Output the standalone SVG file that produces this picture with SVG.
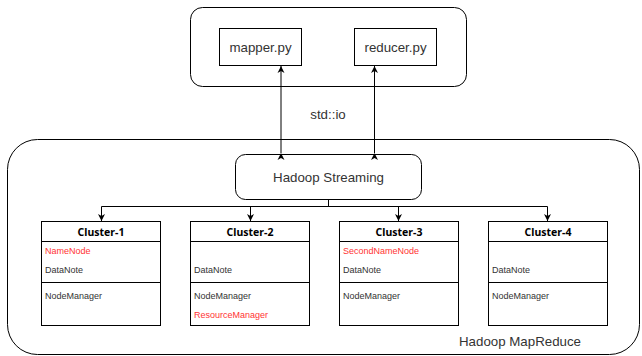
<svg xmlns="http://www.w3.org/2000/svg" width="642" height="356" viewBox="0 0 642 356">
<style>
.box{fill:#fff;stroke:#000;stroke-width:1}
.lbl{font-family:"Liberation Sans",Arial,sans-serif;font-size:13.3px;fill:#333}
.title{font-family:"Noto Sans","DejaVu Sans",sans-serif;font-size:10.5px;font-weight:bold;fill:#000}
.item{font-family:"Liberation Sans",Arial,sans-serif;font-size:9px;fill:#333}
.red{fill:#FF3333}
.con{fill:none;stroke:#000;stroke-width:1}
</style>
<defs>
<marker id="ah" markerWidth="8" markerHeight="8" refX="7" refY="4" orient="auto" markerUnits="userSpaceOnUse">
<path d="M0,0.5 L7,4 L0,7.5 L2,4 Z" fill="#000"/>
</marker>
</defs>
<g id="mapreduce">
<rect class="box" x="7.5" y="139.5" width="632" height="215" rx="30" ry="30"/>
<text class="lbl" x="520" y="346" text-anchor="middle">Hadoop MapReduce</text>
</g>
<g id="scripts">
<rect class="box" x="190.5" y="7.5" width="276" height="79" rx="12" ry="12"/>
</g>
<g id="mapper">
<rect class="box" x="219.5" y="28.5" width="82" height="37"/>
<text class="lbl" x="260.5" y="52" text-anchor="middle">mapper.py</text>
</g>
<g id="reducer">
<rect class="box" x="354.5" y="28.5" width="82" height="37"/>
<text class="lbl" x="395.5" y="52" text-anchor="middle">reducer.py</text>
</g>
<g id="streaming">
<rect class="box" x="235.5" y="154.5" width="186" height="45" rx="10" ry="10"/>
<text class="lbl" x="328.5" y="182" text-anchor="middle">Hadoop Streaming</text>
</g>
<g id="connectors">
<path class="con" d="M281,153 V66" marker-start="url(#ah)" marker-end="url(#ah)"/>
<path class="con" d="M374.5,153 V66" marker-start="url(#ah)" marker-end="url(#ah)"/>
<path class="con" d="M328.5,200 V206.5 H101.5 V221" marker-end="url(#ah)"/>
<path class="con" d="M328.5,206.5 H250.5 V221" marker-end="url(#ah)"/>
<path class="con" d="M328.5,206.5 H398.5 V221" marker-end="url(#ah)"/>
<path class="con" d="M328.5,206.5 H547.5 V221" marker-end="url(#ah)"/>
<rect x="310" y="106" width="36" height="16" fill="#fff"/>
<text class="lbl" x="328" y="119" text-anchor="middle">std::io</text>
</g>
<g id="cluster1">
<rect class="box" x="41.5" y="221.5" width="119" height="104"/>
<line class="con" x1="41.5" y1="241.5" x2="160.5" y2="241.5"/>
<line class="con" x1="41.5" y1="282.5" x2="160.5" y2="282.5"/>
<text class="title" x="101" y="235.5" text-anchor="middle">Cluster-1</text>
<text class="item red" x="45" y="254">NameNode</text>
<text class="item" x="45" y="273">DataNote</text>
<text class="item" x="45" y="299">NodeManager</text>
</g>
<g id="cluster2">
<rect class="box" x="190.5" y="221.5" width="119" height="104"/>
<line class="con" x1="190.5" y1="241.5" x2="309.5" y2="241.5"/>
<line class="con" x1="190.5" y1="282.5" x2="309.5" y2="282.5"/>
<text class="title" x="250" y="235.5" text-anchor="middle">Cluster-2</text>
<text class="item" x="194" y="273">DataNote</text>
<text class="item" x="194" y="299">NodeManager</text>
<text class="item red" x="194" y="318">ResourceManager</text>
</g>
<g id="cluster3">
<rect class="box" x="339.5" y="221.5" width="119" height="104"/>
<line class="con" x1="339.5" y1="241.5" x2="458.5" y2="241.5"/>
<line class="con" x1="339.5" y1="282.5" x2="458.5" y2="282.5"/>
<text class="title" x="399" y="235.5" text-anchor="middle">Cluster-3</text>
<text class="item red" x="343" y="254">SecondNameNode</text>
<text class="item" x="343" y="273">DataNote</text>
<text class="item" x="343" y="299">NodeManager</text>
</g>
<g id="cluster4">
<rect class="box" x="488.5" y="221.5" width="119" height="104"/>
<line class="con" x1="488.5" y1="241.5" x2="607.5" y2="241.5"/>
<line class="con" x1="488.5" y1="282.5" x2="607.5" y2="282.5"/>
<text class="title" x="548" y="235.5" text-anchor="middle">Cluster-4</text>
<text class="item" x="492" y="273">DataNote</text>
<text class="item" x="492" y="299">NodeManager</text>
</g>
</svg>
